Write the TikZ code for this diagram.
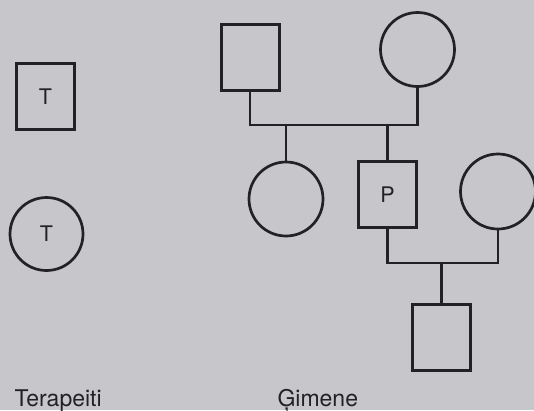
\documentclass[tikz,border=0pt]{standalone}
\usepackage{fontspec}
\setmainfont{TeX Gyre Heros}
\definecolor{paper}{RGB}{199,199,203}
\definecolor{ink}{RGB}{34,34,36}

\begin{document}
\begin{tikzpicture}[x=1pt,y=-1pt,
    every node/.style={text=ink,font=\fontsize{21.5}{25}\selectfont},
    male/.style={draw=ink,line width=3pt,rectangle,minimum width=58pt,minimum height=66pt,inner sep=0pt},
    female/.style={draw=ink,line width=2.7pt,circle,minimum size=73pt,inner sep=0pt},
    link/.style={draw=ink,line width=2.2pt},
    caption/.style={anchor=base west,font=\fontsize{23}{27}\selectfont}]
  % page
  \fill[paper] (0,0) rectangle (534,410);
  \useasboundingbox (0,0) rectangle (534,410);

  % Therapist symbols on the left
  \node[male] (tm) at (45.5,96.5) {T};
  \node[female] (tf) at (46.5,234) {T};

  % Parents
  \node[male] (father) at (250,57.5) {};
  \node[female,minimum size=74pt] (mother) at (417.5,49.5) {};

  % Children of the parents
  \node[female,minimum size=74pt] (sister) at (286,199) {};
  \node[male] (patient) at (387.5,194.5) {P};
  \node[female,minimum size=75pt] (wife) at (498,191.5) {};

  % Child of P
  \node[male] (child) at (441.5,337) {};

  % Marriage lines
  \coordinate (u1) at (335,125);
  \coordinate (u2) at (441.5,263);
  \draw[link] (father.south) |- (u1) -| (mother.south);
  \draw[link] (patient.south) |- (u2) -| (wife.south);

  % Descent lines
  \draw[link] (u1 -| sister) -- (sister.north);
  \draw[link] (u1 -| patient) -- (patient.north);
  \draw[link] (u2) -- (child.north);

  % Labels
  \node[caption] (lt) at (11,406) {Terapeiti};
  \node[caption] (lg) at (274,406) {Ģimene};
\end{tikzpicture}
\end{document}
